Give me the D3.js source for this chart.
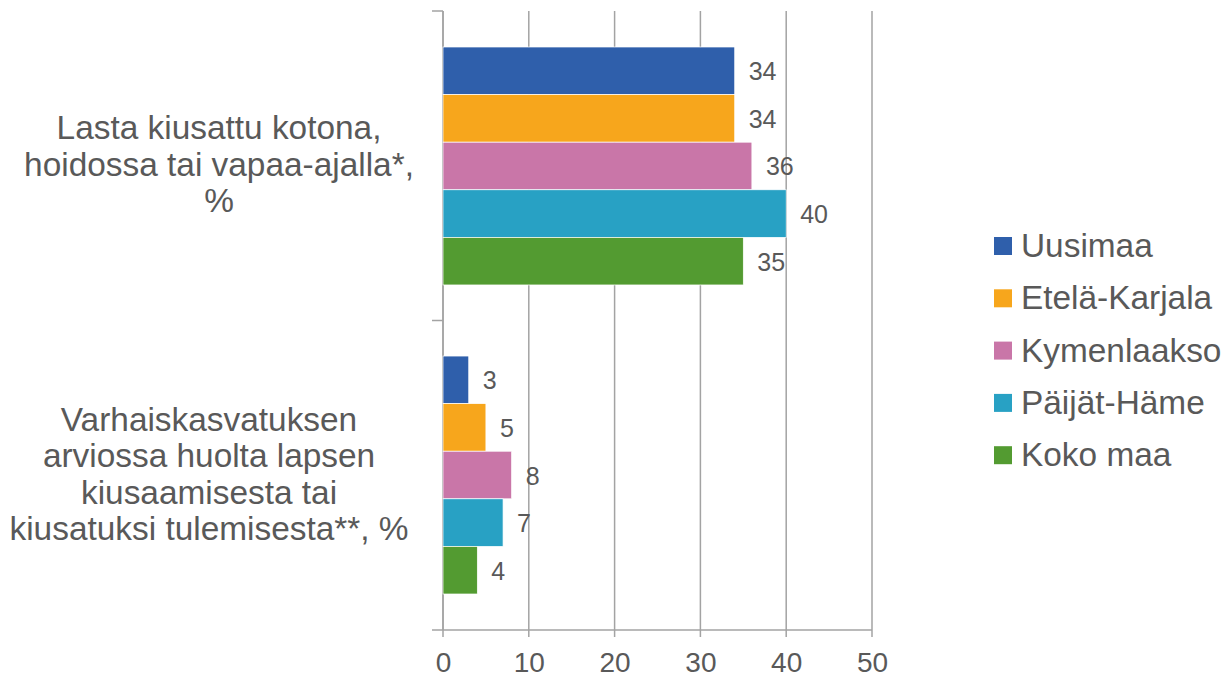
<!DOCTYPE html>
<html>
<head>
<meta charset="utf-8">
<script src="https://cdn.jsdelivr.net/npm/d3@7"></script>
<style>
    body { margin: 0; background: #fff; }
    svg text { font-family: "Liberation Sans", Arial, sans-serif; fill: #595959; }
</style>
</head>
<body>
<div class="chart"></div>
<script>
const categories = [
    ["Lasta kiusattu kotona,", "hoidossa tai vapaa-ajalla*,", "%"],
    ["Varhaiskasvatuksen", "arviossa huolta lapsen", "kiusaamisesta tai", "kiusatuksi tulemisesta**, %"]
];
const seriesNames = ["Uusimaa", "Etelä-Karjala", "Kymenlaakso", "Päijät-Häme", "Koko maa"];
const uusimaa = [34, 3];
const etelaKarjala = [34, 5];
const kymenlaakso = [36, 8];
const paijatHame = [40, 7];
const kokoMaa = [35, 4];
const xTicks = [0, 10, 20, 30, 40, 50];

const seriesValues = [uusimaa, etelaKarjala, kymenlaakso, paijatHame, kokoMaa];
const colors = ["#2f5fab", "#f7a61c", "#c976a8", "#28a1c4", "#539b31"];

const w = 1227, h = 677;
const margin = { left: 443, right: 355, top: 11, bottom: 47 };
const chartWidth = w - margin.left - margin.right;
const chartHeight = h - margin.top - margin.bottom;

const svg = d3.select(".chart")
    .append("svg")
    .attr("width", w)
    .attr("height", h)
    .append("g")
    .attr("transform", "translate(" + margin.left + "," + margin.top + ")");

const xScale = d3.scaleLinear()
    .domain([0, 50])
    .range([0, chartWidth]);

const catIdx = categories.map((d, i) => i);

// outer scale for category boundaries (ticks)
const yOuter = d3.scaleBand()
    .domain(catIdx)
    .range([0, chartHeight]);

// bar groups
const yScale = d3.scaleBand()
    .domain(catIdx)
    .range([0, chartHeight])
    .paddingInner(0.23)
    .paddingOuter(0.1165);

const ySub = d3.scaleBand()
    .domain(d3.range(seriesNames.length))
    .range([0, yScale.bandwidth()]);

const gridColor = "#a3a3a3";

// gridlines
svg.append("g")
    .selectAll("line")
    .data(xTicks)
    .enter().append("line")
    .attr("x1", d => xScale(d))
    .attr("x2", d => xScale(d))
    .attr("y1", 0)
    .attr("y2", chartHeight + 7)
    .attr("stroke", gridColor)
    .attr("stroke-width", 1.5);

// x axis labels
const xAxis = d3.axisBottom(xScale)
    .tickValues(xTicks)
    .tickSize(0)
    .tickPadding(22);

const xg = svg.append("g")
    .attr("transform", `translate(0, ${chartHeight})`)
    .call(xAxis);
xg.select(".domain").remove();
xg.selectAll("text")
    .attr("font-size", 28)
    .attr("font-family", null)
    .style("fill", "#595959");

// x axis line (extends left like a category tick)
svg.append("line")
    .attr("x1", -11)
    .attr("x2", chartWidth)
    .attr("y1", chartHeight)
    .attr("y2", chartHeight)
    .attr("stroke", gridColor)
    .attr("stroke-width", 1.5);

// y axis line and category ticks
svg.append("line")
    .attr("x1", 0).attr("x2", 0)
    .attr("y1", 0).attr("y2", chartHeight)
    .attr("stroke", gridColor)
    .attr("stroke-width", 1.5);

svg.append("g")
    .selectAll("line")
    .data(catIdx)
    .enter().append("line")
    .attr("x1", -11)
    .attr("x2", 0)
    .attr("y1", d => yOuter(d))
    .attr("y2", d => yOuter(d))
    .attr("stroke", gridColor)
    .attr("stroke-width", 1.5);

// bars
const rows = [];
catIdx.forEach(c => {
    seriesValues.forEach((vals, s) => {
        rows.push({ cat: c, s: s, value: vals[c] });
    });
});

svg.append("g")
    .selectAll("rect")
    .data(rows)
    .enter().append("rect")
    .attr("x", 0)
    .attr("y", d => yScale(d.cat) + ySub(d.s))
    .attr("width", d => xScale(d.value))
    .attr("height", ySub.bandwidth())
    .attr("fill", d => colors[d.s])
    .attr("stroke", "#fff")
    .attr("stroke-width", 0.7);

// value labels
svg.append("g")
    .selectAll("text")
    .data(rows)
    .enter().append("text")
    .attr("x", d => xScale(d.value) + 14)
    .attr("y", d => yScale(d.cat) + ySub(d.s) + ySub.bandwidth() / 2)
    .attr("dy", "0.38em")
    .attr("font-size", 25)
    .text(d => d.value);

// category labels (the second box sits a little further left)
const lineH = 36.5;
const labelCenterX = [-224, -234];
const catLabels = svg.append("g")
    .selectAll("text")
    .data(categories)
    .enter().append("text")
    .attr("text-anchor", "middle")
    .attr("font-size", 33.4);

catLabels.each(function (lines, i) {
    const cy = yOuter(i) + yOuter.bandwidth() / 2;
    d3.select(this).selectAll("tspan")
        .data(lines)
        .enter().append("tspan")
        .attr("x", labelCenterX[i])
        .attr("y", (d, j) => cy + (j - (lines.length - 1) / 2) * lineH)
        .attr("dy", "0.3em")
        .text(d => d);
});

// legend
const legend = svg.append("g")
    .attr("transform", "translate(" + (994 - margin.left) + "," + (246 - margin.top) + ")");

const legendItem = legend.selectAll("g")
    .data(seriesNames)
    .enter().append("g")
    .attr("transform", (d, i) => "translate(0," + (i * 52.3) + ")");

legendItem.append("rect")
    .attr("x", 0)
    .attr("y", -9)
    .attr("width", 18)
    .attr("height", 18)
    .attr("fill", (d, i) => colors[i]);

legendItem.append("text")
    .attr("x", 27)
    .attr("y", 0)
    .attr("dy", "0.33em")
    .attr("font-size", 33.4)
    .text(d => d);
</script>
</body>
</html>
